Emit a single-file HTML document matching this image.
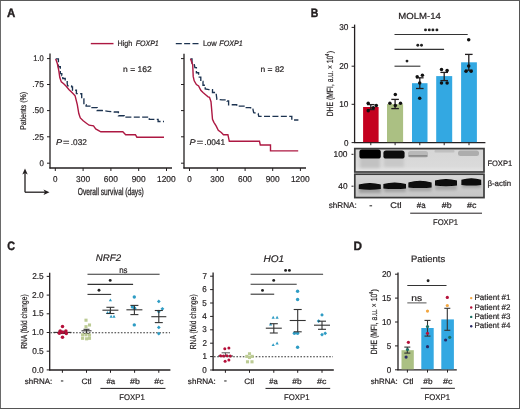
<!DOCTYPE html>
<html><head><meta charset="utf-8"><style>
html,body{margin:0;padding:0;background:#fff;}
body{width:520px;height:409px;overflow:hidden;}
#w{will-change:transform;width:520px;height:409px;}
svg{display:block;font-family:"Liberation Sans",sans-serif;text-rendering:geometricPrecision;}
</style></head><body><div id="w">
<svg width="520" height="409" viewBox="0 0 520 409">
<rect x="0" y="0" width="520" height="409" fill="#fff"/>
<text x="6.91" y="16.5" font-size="12.2" textLength="8.3" lengthAdjust="spacingAndGlyphs" fill="#231f20" stroke="#231f20" stroke-width="0.4" style="font-weight:bold;" >A</text>
<line x1="90.8" y1="43.6" x2="113.5" y2="43.6" stroke="#ad1842" stroke-width="1.4" />
<text x="117.51" y="46.4" font-size="7.9" textLength="14.75" lengthAdjust="spacingAndGlyphs" fill="#231f20" stroke="#231f20" stroke-width="0.2" style="" >High</text>
<text x="135.69" y="46.4" font-size="7.9" textLength="23.1" lengthAdjust="spacingAndGlyphs" fill="#231f20" stroke="#231f20" stroke-width="0.2" style="font-style:italic;" >FOXP1</text>
<line x1="175.8" y1="43.6" x2="198.5" y2="43.6" stroke="#1c3350" stroke-width="1.4" stroke-dasharray="6,2.35"/>
<text x="202.88" y="46.4" font-size="7.9" textLength="13.8" lengthAdjust="spacingAndGlyphs" fill="#231f20" stroke="#231f20" stroke-width="0.2" style="" >Low</text>
<text x="219.28" y="46.4" font-size="7.9" textLength="23.52" lengthAdjust="spacingAndGlyphs" fill="#231f20" stroke="#231f20" stroke-width="0.2" style="font-style:italic;" >FOXP1</text>
<line x1="50" y1="53.5" x2="50" y2="168.5" stroke="#231f20" stroke-width="1.3" />
<line x1="49.45" y1="168" x2="172" y2="168" stroke="#231f20" stroke-width="1.3" />
<line x1="47" y1="58.6" x2="50" y2="58.6" stroke="#231f20" stroke-width="1" />
<line x1="47" y1="84.5" x2="50" y2="84.5" stroke="#231f20" stroke-width="1" />
<line x1="47" y1="110.6" x2="50" y2="110.6" stroke="#231f20" stroke-width="1" />
<line x1="47" y1="136.8" x2="50" y2="136.8" stroke="#231f20" stroke-width="1" />
<line x1="47" y1="163.2" x2="50" y2="163.2" stroke="#231f20" stroke-width="1" />
<line x1="55.3" y1="168" x2="55.3" y2="171" stroke="#231f20" stroke-width="1" />
<line x1="83.1" y1="168" x2="83.1" y2="171" stroke="#231f20" stroke-width="1" />
<line x1="110.9" y1="168" x2="110.9" y2="171" stroke="#231f20" stroke-width="1" />
<line x1="138.7" y1="168" x2="138.7" y2="171" stroke="#231f20" stroke-width="1" />
<line x1="166.5" y1="168" x2="166.5" y2="171" stroke="#231f20" stroke-width="1" />
<text x="53.05" y="182.4" font-size="8.5" textLength="4.49" lengthAdjust="spacingAndGlyphs" fill="#231f20" stroke="#231f20" stroke-width="0.2" style="" >0</text>
<text x="76.12" y="182.4" font-size="8.5" textLength="13.97" lengthAdjust="spacingAndGlyphs" fill="#231f20" stroke="#231f20" stroke-width="0.2" style="" >300</text>
<text x="103.87" y="182.4" font-size="8.5" textLength="13.97" lengthAdjust="spacingAndGlyphs" fill="#231f20" stroke="#231f20" stroke-width="0.2" style="" >600</text>
<text x="131.68" y="182.4" font-size="8.5" textLength="13.97" lengthAdjust="spacingAndGlyphs" fill="#231f20" stroke="#231f20" stroke-width="0.2" style="" >900</text>
<text x="157" y="182.4" font-size="8.5" textLength="18.7" lengthAdjust="spacingAndGlyphs" fill="#231f20" stroke="#231f20" stroke-width="0.2" style="" >1200</text>
<line x1="184" y1="53.7" x2="184" y2="168.5" stroke="#231f20" stroke-width="1.3" />
<line x1="183.45" y1="168" x2="306" y2="168" stroke="#231f20" stroke-width="1.3" />
<line x1="181" y1="58.6" x2="184" y2="58.6" stroke="#231f20" stroke-width="1" />
<line x1="181" y1="84.5" x2="184" y2="84.5" stroke="#231f20" stroke-width="1" />
<line x1="181" y1="110.6" x2="184" y2="110.6" stroke="#231f20" stroke-width="1" />
<line x1="181" y1="136.8" x2="184" y2="136.8" stroke="#231f20" stroke-width="1" />
<line x1="181" y1="163.2" x2="184" y2="163.2" stroke="#231f20" stroke-width="1" />
<line x1="189.5" y1="168" x2="189.5" y2="171" stroke="#231f20" stroke-width="1" />
<line x1="217.3" y1="168" x2="217.3" y2="171" stroke="#231f20" stroke-width="1" />
<line x1="245.1" y1="168" x2="245.1" y2="171" stroke="#231f20" stroke-width="1" />
<line x1="272.7" y1="168" x2="272.7" y2="171" stroke="#231f20" stroke-width="1" />
<line x1="300.4" y1="168" x2="300.4" y2="171" stroke="#231f20" stroke-width="1" />
<text x="187.25" y="182.4" font-size="8.5" textLength="4.49" lengthAdjust="spacingAndGlyphs" fill="#231f20" stroke="#231f20" stroke-width="0.2" style="" >0</text>
<text x="210.32" y="182.4" font-size="8.5" textLength="13.97" lengthAdjust="spacingAndGlyphs" fill="#231f20" stroke="#231f20" stroke-width="0.2" style="" >300</text>
<text x="238.07" y="182.4" font-size="8.5" textLength="13.97" lengthAdjust="spacingAndGlyphs" fill="#231f20" stroke="#231f20" stroke-width="0.2" style="" >600</text>
<text x="265.68" y="182.4" font-size="8.5" textLength="13.97" lengthAdjust="spacingAndGlyphs" fill="#231f20" stroke="#231f20" stroke-width="0.2" style="" >900</text>
<text x="290.9" y="182.4" font-size="8.5" textLength="18.7" lengthAdjust="spacingAndGlyphs" fill="#231f20" stroke="#231f20" stroke-width="0.2" style="" >1200</text>
<text x="33.23" y="61" font-size="8.3" textLength="10.56" lengthAdjust="spacingAndGlyphs" fill="#231f20" stroke="#231f20" stroke-width="0.2" style="" >1.0</text>
<text x="32.25" y="87.2" font-size="8.3" textLength="11.58" lengthAdjust="spacingAndGlyphs" fill="#231f20" stroke="#231f20" stroke-width="0.2" style="" >.75</text>
<text x="32.25" y="113.3" font-size="8.3" textLength="11.56" lengthAdjust="spacingAndGlyphs" fill="#231f20" stroke="#231f20" stroke-width="0.2" style="" >.50</text>
<text x="32.25" y="139.5" font-size="8.3" textLength="11.58" lengthAdjust="spacingAndGlyphs" fill="#231f20" stroke="#231f20" stroke-width="0.2" style="" >.25</text>
<text x="39.42" y="165.8" font-size="8.3" textLength="4.38" lengthAdjust="spacingAndGlyphs" fill="#231f20" stroke="#231f20" stroke-width="0.2" style="" >0</text>
<g transform="translate(25.9,129.4) rotate(-90)">
<text x="-0.47" y="0" font-size="8.4" textLength="37.9" lengthAdjust="spacingAndGlyphs" fill="#231f20" stroke="#231f20" stroke-width="0.2" style="" >Patients (%)</text>
</g>
<line x1="25" y1="192.2" x2="25" y2="172" stroke="#231f20" stroke-width="1.3" />
<path d="M25,168.5 L22.3,174.5 L25,173 L27.7,174.5 Z" fill="#231f20"/>
<line x1="25" y1="192.2" x2="46" y2="192.2" stroke="#231f20" stroke-width="1.3" />
<path d="M49.5,192.2 L43.5,189.5 L45,192.2 L43.5,194.9 Z" fill="#231f20"/>
<text x="77.83" y="194.9" font-size="10" textLength="65.93" lengthAdjust="spacingAndGlyphs" fill="#231f20" stroke="#231f20" stroke-width="0.3" style="" >Overall survival (days)</text>
<text x="123.13" y="72" font-size="8.2" textLength="28.51" lengthAdjust="spacingAndGlyphs" fill="#231f20" stroke="#231f20" stroke-width="0.2" style="" >n = 162</text>
<text x="260.53" y="72" font-size="8.2" textLength="23.8" lengthAdjust="spacingAndGlyphs" fill="#231f20" stroke="#231f20" stroke-width="0.2" style="" >n = 82</text>
<text x="56.02" y="144.8" font-size="8.3" textLength="6.14" lengthAdjust="spacingAndGlyphs" fill="#231f20" stroke="#231f20" stroke-width="0.2" style="font-style:italic;" >P</text>
<text x="63.07" y="144.8" font-size="8.3" textLength="6.47" lengthAdjust="spacingAndGlyphs" fill="#231f20" stroke="#231f20" stroke-width="0.2" style="" >=</text>
<text x="70.76" y="144.8" font-size="8.3" textLength="16.07" lengthAdjust="spacingAndGlyphs" fill="#231f20" stroke="#231f20" stroke-width="0.2" style="" >.032</text>
<text x="189.62" y="144.8" font-size="8.3" textLength="6.14" lengthAdjust="spacingAndGlyphs" fill="#231f20" stroke="#231f20" stroke-width="0.2" style="font-style:italic;" >P</text>
<text x="196.67" y="144.8" font-size="8.3" textLength="6.47" lengthAdjust="spacingAndGlyphs" fill="#231f20" stroke="#231f20" stroke-width="0.2" style="" >=</text>
<text x="204.35" y="144.8" font-size="8.3" textLength="20.74" lengthAdjust="spacingAndGlyphs" fill="#231f20" stroke="#231f20" stroke-width="0.2" style="" >.0041</text>
<polyline points="55.7,58.9 58.4,58.9 58.4,66.7 60.3,66.7 60.3,73.6 61.8,73.6 61.8,75.5 62.8,75.5 62.8,78.5 65.2,78.5 65.2,80.9 67.2,80.9 67.2,83.3 67.6,85.8 71.6,85.8 71.6,86.8 72.5,86.8 72.5,90.2 76.4,90.2 76.4,93.6 78.8,93.7 81.7,93.7 81.7,98.8 83.9,98.8 83.9,104.7 86.1,104.7 86.1,106.1 92,106.1 92,107.6 97.1,107.6 97.1,110.5 102.3,110.5 108.1,111.3 114,112 118.4,112 118.4,115.7 124.3,115.7 124.3,117.1 147.1,117.1 149.3,117.1 149.3,119.3 156.7,119.3 158.1,119.3 158.1,121.5 164,121.5" fill="none" stroke="#1c3350" stroke-width="1.35" stroke-linejoin="miter" stroke-dasharray="6,2.4"/>
<polyline points="55.7,58.9 57.4,63.8 58.8,70.6 59.8,77.5 61.3,81.9 63.7,83.8 66.2,86.3 69.1,89.7 73,93.6 75.1,95.9 77.3,104.7 78.8,113.5 80.3,117.9 83.2,120.8 86.1,123 89.1,125.2 93.5,125.9 95.7,128.9 100.8,131.8 122.8,131.8 125.7,134.7 135.4,134.7 136.9,137.2 164,137.2" fill="none" stroke="#ad1842" stroke-width="1.4" stroke-linejoin="miter" />
<polyline points="190.5,58.8 192,58.8 192,63.2 194.2,63.9 194.9,67.6 196.4,67.6 196.4,72.7 198.6,72.7 198.6,77.1 200.8,77.1 200.8,81.5 203,81.5 203,85.2 205.2,85.2 205.2,88.9 208.9,89.6 212.5,89.6 212.5,92.5 216.2,92.5 216.2,94 216.9,99.3 222.1,99.9 227.1,99.9 227.1,101 228.6,101 228.6,104.7 236.7,104.7 236.7,106.1 241.8,106.1 244,106.1 244,107.6 250.6,107.6 250.6,109.1 252.9,109.1 253.7,112.7 258.1,113.5 258.8,116.4 291,116.4 291.8,116.4 291.8,120 298.4,120" fill="none" stroke="#1c3350" stroke-width="1.35" stroke-linejoin="miter" stroke-dasharray="6,2.4"/>
<polyline points="190.5,58.8 192.7,64.7 193.2,76.4 194.2,80.8 196.4,84.5 198.6,85.9 200.8,90.3 203,92.5 205.9,95 208.1,96.9 209.5,97.3 211,101.7 212.5,119.3 213.9,122.3 216.1,125.9 218.3,130.3 221.3,132.5 223.5,134.7 227.9,134.7 229.3,141.3 259.5,141.3 260.3,145 270.5,145 270.5,150.9 298.2,150.9" fill="none" stroke="#ad1842" stroke-width="1.4" stroke-linejoin="miter" />
<text x="310.69" y="16.6" font-size="12.2" textLength="7.58" lengthAdjust="spacingAndGlyphs" fill="#231f20" stroke="#231f20" stroke-width="0.4" style="font-weight:bold;" >B</text>
<text x="398.31" y="19.1" font-size="8.8" textLength="42.56" lengthAdjust="spacingAndGlyphs" fill="#231f20" stroke="#231f20" stroke-width="0.2" style="" >MOLM-14</text>
<line x1="354.6" y1="24.6" x2="354.6" y2="142.9" stroke="#231f20" stroke-width="1.3" />
<line x1="354.05" y1="142.6" x2="485.4" y2="142.6" stroke="#231f20" stroke-width="1.3" />
<line x1="351.6" y1="27.4" x2="354.6" y2="27.4" stroke="#231f20" stroke-width="1" />
<text x="339.19" y="30.35" font-size="8.5" textLength="9.24" lengthAdjust="spacingAndGlyphs" fill="#231f20" stroke="#231f20" stroke-width="0.2" style="" >30</text>
<line x1="351.6" y1="66.2" x2="354.6" y2="66.2" stroke="#231f20" stroke-width="1" />
<text x="339.19" y="69.15" font-size="8.5" textLength="9.24" lengthAdjust="spacingAndGlyphs" fill="#231f20" stroke="#231f20" stroke-width="0.2" style="" >20</text>
<line x1="351.6" y1="104.3" x2="354.6" y2="104.3" stroke="#231f20" stroke-width="1" />
<text x="339.2" y="107.25" font-size="8.5" textLength="9.23" lengthAdjust="spacingAndGlyphs" fill="#231f20" stroke="#231f20" stroke-width="0.2" style="" >10</text>
<line x1="351.6" y1="142.6" x2="354.6" y2="142.6" stroke="#231f20" stroke-width="1" />
<text x="343.92" y="145.55" font-size="8.5" textLength="4.49" lengthAdjust="spacingAndGlyphs" fill="#231f20" stroke="#231f20" stroke-width="0.2" style="" >0</text>
<g transform="translate(333.1,115.9) rotate(-90)">
<text x="-0.46" y="0" font-size="9" textLength="60.73" lengthAdjust="spacingAndGlyphs" fill="#231f20" stroke="#231f20" stroke-width="0.2" style="" >DHE (MFI, a.u. × 10</text>
</g>
<g transform="translate(329.1,55.9) rotate(-90)">
<text x="-0.01" y="0" font-size="5.8" textLength="2.15" lengthAdjust="spacingAndGlyphs" fill="#231f20" stroke="#231f20" stroke-width="0.15" style="" >4</text>
</g>
<g transform="translate(333.1,53.2) rotate(-90)">
<text x="0.05" y="0" font-size="8.4" textLength="2.39" lengthAdjust="spacingAndGlyphs" fill="#231f20" stroke="#231f20" stroke-width="0.2" style="" >)</text>
</g>
<rect x="363.1" y="107" width="15.5" height="35.1" fill="#c4011f" />
<rect x="387" y="104.1" width="16.1" height="38" fill="#abc083" />
<rect x="412" y="83.2" width="15.5" height="58.9" fill="#33a8e2" />
<rect x="436.2" y="76.1" width="16" height="66" fill="#33a8e2" />
<rect x="461.1" y="62.3" width="15.8" height="79.8" fill="#33a8e2" />
<line x1="370.8" y1="142.6" x2="370.8" y2="145.2" stroke="#231f20" stroke-width="1" />
<line x1="395.1" y1="142.6" x2="395.1" y2="145.2" stroke="#231f20" stroke-width="1" />
<line x1="419.8" y1="142.6" x2="419.8" y2="145.2" stroke="#231f20" stroke-width="1" />
<line x1="444.2" y1="142.6" x2="444.2" y2="145.2" stroke="#231f20" stroke-width="1" />
<line x1="469" y1="142.6" x2="469" y2="145.2" stroke="#231f20" stroke-width="1" />
<line x1="370.8" y1="104.6" x2="370.8" y2="109.6" stroke="#231f20" stroke-width="1.3" />
<line x1="367" y1="104.6" x2="374.6" y2="104.6" stroke="#231f20" stroke-width="1.3" />
<line x1="367" y1="109.6" x2="374.6" y2="109.6" stroke="#231f20" stroke-width="1.3" />
<line x1="395.1" y1="99.4" x2="395.1" y2="108.6" stroke="#231f20" stroke-width="1.3" />
<line x1="391.3" y1="99.4" x2="398.9" y2="99.4" stroke="#231f20" stroke-width="1.3" />
<line x1="391.3" y1="108.6" x2="398.9" y2="108.6" stroke="#231f20" stroke-width="1.3" />
<line x1="419.8" y1="77.8" x2="419.8" y2="88.5" stroke="#231f20" stroke-width="1.3" />
<line x1="416" y1="77.8" x2="423.6" y2="77.8" stroke="#231f20" stroke-width="1.3" />
<line x1="416" y1="88.5" x2="423.6" y2="88.5" stroke="#231f20" stroke-width="1.3" />
<line x1="444.2" y1="72.4" x2="444.2" y2="80.6" stroke="#231f20" stroke-width="1.3" />
<line x1="440.4" y1="72.4" x2="448" y2="72.4" stroke="#231f20" stroke-width="1.3" />
<line x1="440.4" y1="80.6" x2="448" y2="80.6" stroke="#231f20" stroke-width="1.3" />
<line x1="468.8" y1="54.4" x2="468.8" y2="70.2" stroke="#231f20" stroke-width="1.3" />
<line x1="465" y1="54.4" x2="472.6" y2="54.4" stroke="#231f20" stroke-width="1.3" />
<line x1="465" y1="70.2" x2="472.6" y2="70.2" stroke="#231f20" stroke-width="1.3" />
<circle cx="368.2" cy="103.3" r="1.75" fill="#111"/>
<circle cx="368.2" cy="110.7" r="1.75" fill="#111"/>
<circle cx="373.3" cy="107.7" r="1.75" fill="#111"/>
<circle cx="376.3" cy="105.5" r="1.75" fill="#111"/>
<circle cx="395.3" cy="94.5" r="1.75" fill="#111"/>
<circle cx="389.9" cy="103.3" r="1.75" fill="#111"/>
<circle cx="395.3" cy="105.5" r="1.75" fill="#111"/>
<circle cx="400.5" cy="103.3" r="1.75" fill="#111"/>
<circle cx="417.2" cy="76.7" r="1.75" fill="#111"/>
<circle cx="422.4" cy="75.3" r="1.75" fill="#111"/>
<circle cx="419.7" cy="83.1" r="1.75" fill="#111"/>
<circle cx="419.7" cy="98.2" r="1.75" fill="#111"/>
<circle cx="441.5" cy="69.5" r="1.75" fill="#111"/>
<circle cx="447.1" cy="70.4" r="1.75" fill="#111"/>
<circle cx="441.5" cy="82.9" r="1.75" fill="#111"/>
<circle cx="447.1" cy="82.9" r="1.75" fill="#111"/>
<circle cx="468.7" cy="39.8" r="1.75" fill="#111"/>
<circle cx="468.7" cy="66.1" r="1.75" fill="#111"/>
<circle cx="466" cy="71.3" r="1.75" fill="#111"/>
<circle cx="471.1" cy="71.3" r="1.75" fill="#111"/>
<line x1="394.5" y1="34.5" x2="467.7" y2="34.5" stroke="#333" stroke-width="1.1" />
<line x1="394.5" y1="49.4" x2="444.1" y2="49.4" stroke="#333" stroke-width="1.1" />
<line x1="394.5" y1="66.2" x2="420.4" y2="66.2" stroke="#333" stroke-width="1.1" />
<circle cx="425.5" cy="29.9" r="1.45" fill="#222"/>
<circle cx="429.3" cy="29.9" r="1.45" fill="#222"/>
<circle cx="432.9" cy="29.9" r="1.45" fill="#222"/>
<circle cx="436.9" cy="29.9" r="1.45" fill="#222"/>
<circle cx="417.8" cy="45.2" r="1.45" fill="#222"/>
<circle cx="421.5" cy="45.2" r="1.45" fill="#222"/>
<circle cx="407" cy="61.1" r="1.45" fill="#222"/>
<defs><filter id="bl" x="-30%" y="-80%" width="160%" height="260%"><feGaussianBlur stdDeviation="0.65"/></filter><filter id="bl2" x="-30%" y="-80%" width="160%" height="260%"><feGaussianBlur stdDeviation="1.6"/></filter><linearGradient id="g1" x1="0" y1="0" x2="0" y2="1"><stop offset="0" stop-color="#d6d6d6"/><stop offset="0.75" stop-color="#dadada"/><stop offset="1" stop-color="#e6e6e6"/></linearGradient><linearGradient id="g2" x1="0" y1="0" x2="0" y2="1"><stop offset="0" stop-color="#d6d6d6"/><stop offset="1" stop-color="#c6c6c6"/></linearGradient></defs>
<rect x="354.8" y="148.6" width="129.2" height="23.4" fill="url(#g1)"  stroke="#3c3c3c" stroke-width="1.7"/>
<rect x="354.8" y="174.2" width="129.2" height="23.4" fill="url(#g2)"  stroke="#3c3c3c" stroke-width="1.7"/>
<g filter="url(#bl2)">
<rect x="360" y="157" width="20" height="11" fill="#c2c2c2" />
<rect x="384" y="157" width="20" height="10" fill="#c8c8c8" />
<rect x="359" y="187" width="22" height="6" fill="#9c9c9c" />
<rect x="384" y="186" width="22" height="6" fill="#a0a0a0" />
<rect x="408.6" y="185" width="23" height="6" fill="#a0a0a0" />
<rect x="435.2" y="184" width="21.6" height="6" fill="#a6a6a6" />
<rect x="461.6" y="183" width="19.6" height="5" fill="#a6a6a6" />
</g>
<g filter="url(#bl)">
<rect x="359.4" y="149.4" width="21.4" height="9.2" fill="#060606"  rx="2.6"/>
<rect x="383.4" y="150.6" width="21.2" height="8" fill="#0c0c0c"  rx="2.6"/>
<rect x="408" y="151" width="20" height="6.6" fill="#b9b9b9"  rx="2.5"/>
<rect x="408.5" y="155" width="19" height="1.8" fill="#8c8c8c"  rx="0.9"/>
<rect x="434.5" y="150" width="20" height="2.5" fill="#c0c0c0"  rx="1"/>
<rect x="458" y="150.5" width="21" height="5.6" fill="#adadad"  rx="2.5"/>
<path d="M358.8,184.5 Q369.8,181.3 380.8,184.5 L380.8,189 Q369.8,190.4 358.8,189 Z" fill="#070707"/>
<path d="M383.4,183.9 Q394.7,180.9 406,183.9 L406,188.4 Q394.7,189.7 383.4,188.4 Z" fill="#070707"/>
<path d="M408.4,182.4 Q420,179 431.6,182.4 L431.6,187.4 Q420,188.8 408.4,187.4 Z" fill="#070707"/>
<path d="M435,180.6 Q446,177.4 457,180.6 L457,185.6 Q446,186.8 435,185.6 Z" fill="#070707"/>
<path d="M461.4,179.8 Q471.3,176.6 481.2,179.8 L481.2,185 Q471.3,186.2 461.4,185 Z" fill="#070707"/>
</g>
<line x1="351.5" y1="154.3" x2="353.5" y2="154.3" stroke="#231f20" stroke-width="1" />
<line x1="351.5" y1="186.2" x2="353.5" y2="186.2" stroke="#231f20" stroke-width="1" />
<text x="333.55" y="157" font-size="8.5" textLength="13.97" lengthAdjust="spacingAndGlyphs" fill="#231f20" stroke="#231f20" stroke-width="0.2" style="" >100</text>
<text x="338.29" y="188.8" font-size="8.5" textLength="9.24" lengthAdjust="spacingAndGlyphs" fill="#231f20" stroke="#231f20" stroke-width="0.2" style="" >40</text>
<text x="487.38" y="165.9" font-size="7.9" textLength="24.79" lengthAdjust="spacingAndGlyphs" fill="#231f20" stroke="#231f20" stroke-width="0.2" style="" >FOXP1</text>
<text x="487.45" y="186.4" font-size="7.9" textLength="23.75" lengthAdjust="spacingAndGlyphs" fill="#231f20" stroke="#231f20" stroke-width="0.2" style="" >β-actin</text>
<text x="328.68" y="208.1" font-size="8.2" textLength="28.06" lengthAdjust="spacingAndGlyphs" fill="#231f20" stroke="#231f20" stroke-width="0.2" style="" >shRNA:</text>
<rect x="369.5" y="205.1" width="2.6" height="1.3" fill="#555" />
<text x="390.34" y="208" font-size="8.2" textLength="11.28" lengthAdjust="spacingAndGlyphs" fill="#231f20" stroke="#231f20" stroke-width="0.2" style="" >Ctl</text>
<text x="416.86" y="208" font-size="8.2" textLength="8.84" lengthAdjust="spacingAndGlyphs" fill="#231f20" stroke="#231f20" stroke-width="0.2" style="" >#a</text>
<text x="441.76" y="208" font-size="8.2" textLength="9.92" lengthAdjust="spacingAndGlyphs" fill="#231f20" stroke="#231f20" stroke-width="0.2" style="" >#b</text>
<text x="467.06" y="208" font-size="8.2" textLength="9.4" lengthAdjust="spacingAndGlyphs" fill="#231f20" stroke="#231f20" stroke-width="0.2" style="" >#c</text>
<line x1="410.2" y1="213.2" x2="482" y2="213.2" stroke="#231f20" stroke-width="1" />
<text x="432.97" y="224.9" font-size="8.4" textLength="25.11" lengthAdjust="spacingAndGlyphs" fill="#231f20" stroke="#231f20" stroke-width="0.2" style="" >FOXP1</text>
<text x="7.17" y="249.8" font-size="12.2" textLength="7.83" lengthAdjust="spacingAndGlyphs" fill="#231f20" stroke="#231f20" stroke-width="0.4" style="font-weight:bold;" >C</text>
<text x="95.81" y="261.3" font-size="9.6" textLength="25.22" lengthAdjust="spacingAndGlyphs" fill="#231f20" stroke="#231f20" stroke-width="0.2" style="font-style:italic;" >NRF2</text>
<text x="263.5" y="261.5" font-size="9.6" textLength="20.64" lengthAdjust="spacingAndGlyphs" fill="#231f20" stroke="#231f20" stroke-width="0.2" style="font-style:italic;" >HO1</text>
<line x1="49.7" y1="272.7" x2="49.7" y2="370.5" stroke="#231f20" stroke-width="1.3" />
<line x1="49.15" y1="370" x2="170.4" y2="370" stroke="#231f20" stroke-width="1.3" />
<line x1="46.7" y1="369.9" x2="49.7" y2="369.9" stroke="#231f20" stroke-width="1" />
<text x="32.11" y="372.5" font-size="8.5" textLength="11.6" lengthAdjust="spacingAndGlyphs" fill="#231f20" stroke="#231f20" stroke-width="0.2" style="" >0.0</text>
<line x1="46.7" y1="351.2" x2="49.7" y2="351.2" stroke="#231f20" stroke-width="1" />
<text x="32.13" y="353.8" font-size="8.5" textLength="11.6" lengthAdjust="spacingAndGlyphs" fill="#231f20" stroke="#231f20" stroke-width="0.2" style="" >0.5</text>
<line x1="46.7" y1="332.5" x2="49.7" y2="332.5" stroke="#231f20" stroke-width="1" />
<text x="32.12" y="335.1" font-size="8.5" textLength="11.6" lengthAdjust="spacingAndGlyphs" fill="#231f20" stroke="#231f20" stroke-width="0.2" style="" >1.0</text>
<line x1="46.7" y1="313.8" x2="49.7" y2="313.8" stroke="#231f20" stroke-width="1" />
<text x="32.14" y="316.4" font-size="8.5" textLength="11.6" lengthAdjust="spacingAndGlyphs" fill="#231f20" stroke="#231f20" stroke-width="0.2" style="" >1.5</text>
<line x1="46.7" y1="295.1" x2="49.7" y2="295.1" stroke="#231f20" stroke-width="1" />
<text x="32.11" y="297.7" font-size="8.5" textLength="11.6" lengthAdjust="spacingAndGlyphs" fill="#231f20" stroke="#231f20" stroke-width="0.2" style="" >2.0</text>
<line x1="46.7" y1="276.4" x2="49.7" y2="276.4" stroke="#231f20" stroke-width="1" />
<text x="32.13" y="279" font-size="8.5" textLength="11.6" lengthAdjust="spacingAndGlyphs" fill="#231f20" stroke="#231f20" stroke-width="0.2" style="" >2.5</text>
<line x1="62.4" y1="370" x2="62.4" y2="372.8" stroke="#231f20" stroke-width="1" />
<line x1="86.5" y1="370" x2="86.5" y2="372.8" stroke="#231f20" stroke-width="1" />
<line x1="110.5" y1="370" x2="110.5" y2="372.8" stroke="#231f20" stroke-width="1" />
<line x1="134.6" y1="370" x2="134.6" y2="372.8" stroke="#231f20" stroke-width="1" />
<line x1="158.8" y1="370" x2="158.8" y2="372.8" stroke="#231f20" stroke-width="1" />
<g transform="translate(26.9,348.3) rotate(-90)">
<text x="-0.45" y="0" font-size="8.7" textLength="54.36" lengthAdjust="spacingAndGlyphs" fill="#231f20" stroke="#231f20" stroke-width="0.2" style="" >RNA (fold change)</text>
</g>
<line x1="213.1" y1="272.4" x2="213.1" y2="370.5" stroke="#231f20" stroke-width="1.3" />
<line x1="212.55" y1="370" x2="333.8" y2="370" stroke="#231f20" stroke-width="1.3" />
<line x1="210.1" y1="370" x2="213.1" y2="370" stroke="#231f20" stroke-width="1" />
<text x="202.32" y="372.6" font-size="8.5" textLength="4.49" lengthAdjust="spacingAndGlyphs" fill="#231f20" stroke="#231f20" stroke-width="0.2" style="" >0</text>
<line x1="210.1" y1="356.6" x2="213.1" y2="356.6" stroke="#231f20" stroke-width="1" />
<text x="202.42" y="359.2" font-size="8.5" textLength="4.47" lengthAdjust="spacingAndGlyphs" fill="#231f20" stroke="#231f20" stroke-width="0.2" style="" >1</text>
<line x1="210.1" y1="343.2" x2="213.1" y2="343.2" stroke="#231f20" stroke-width="1" />
<text x="202.43" y="345.8" font-size="8.5" textLength="4.48" lengthAdjust="spacingAndGlyphs" fill="#231f20" stroke="#231f20" stroke-width="0.2" style="" >2</text>
<line x1="210.1" y1="329.8" x2="213.1" y2="329.8" stroke="#231f20" stroke-width="1" />
<text x="202.36" y="332.4" font-size="8.5" textLength="4.49" lengthAdjust="spacingAndGlyphs" fill="#231f20" stroke="#231f20" stroke-width="0.2" style="" >3</text>
<line x1="210.1" y1="316.4" x2="213.1" y2="316.4" stroke="#231f20" stroke-width="1" />
<text x="202.23" y="319" font-size="8.5" textLength="4.51" lengthAdjust="spacingAndGlyphs" fill="#231f20" stroke="#231f20" stroke-width="0.2" style="" >4</text>
<line x1="210.1" y1="303" x2="213.1" y2="303" stroke="#231f20" stroke-width="1" />
<text x="202.34" y="305.6" font-size="8.5" textLength="4.49" lengthAdjust="spacingAndGlyphs" fill="#231f20" stroke="#231f20" stroke-width="0.2" style="" >5</text>
<line x1="210.1" y1="289.6" x2="213.1" y2="289.6" stroke="#231f20" stroke-width="1" />
<text x="202.37" y="292.2" font-size="8.5" textLength="4.49" lengthAdjust="spacingAndGlyphs" fill="#231f20" stroke="#231f20" stroke-width="0.2" style="" >6</text>
<line x1="210.1" y1="276.2" x2="213.1" y2="276.2" stroke="#231f20" stroke-width="1" />
<text x="202.43" y="278.8" font-size="8.5" textLength="4.48" lengthAdjust="spacingAndGlyphs" fill="#231f20" stroke="#231f20" stroke-width="0.2" style="" >7</text>
<line x1="225.4" y1="370" x2="225.4" y2="372.8" stroke="#231f20" stroke-width="1" />
<line x1="249.5" y1="370" x2="249.5" y2="372.8" stroke="#231f20" stroke-width="1" />
<line x1="273.8" y1="370" x2="273.8" y2="372.8" stroke="#231f20" stroke-width="1" />
<line x1="297.7" y1="370" x2="297.7" y2="372.8" stroke="#231f20" stroke-width="1" />
<line x1="322" y1="370" x2="322" y2="372.8" stroke="#231f20" stroke-width="1" />
<g transform="translate(196.3,348.8) rotate(-90)">
<text x="-0.45" y="0" font-size="8.7" textLength="54.86" lengthAdjust="spacingAndGlyphs" fill="#231f20" stroke="#231f20" stroke-width="0.2" style="" >RNA (fold change)</text>
</g>
<line x1="50.5" y1="332.7" x2="170" y2="332.7" stroke="#333" stroke-width="1.1" stroke-dasharray="1.6,1.6"/>
<line x1="214" y1="356.8" x2="333" y2="356.8" stroke="#333" stroke-width="1.1" stroke-dasharray="1.6,1.6"/>
<line x1="87.5" y1="274.2" x2="159.6" y2="274.2" stroke="#333" stroke-width="1.1" />
<line x1="87.5" y1="284.4" x2="133.1" y2="284.4" stroke="#333" stroke-width="1.1" />
<line x1="87.5" y1="294.4" x2="111.2" y2="294.4" stroke="#333" stroke-width="1.1" />
<text x="119.17" y="272.5" font-size="8.6" textLength="8.32" lengthAdjust="spacingAndGlyphs" fill="#231f20" stroke="#231f20" stroke-width="0.2" style="" >ns</text>
<circle cx="110.2" cy="280.4" r="1.45" fill="#222"/>
<circle cx="99" cy="290.2" r="1.45" fill="#222"/>
<line x1="250.6" y1="274.2" x2="323.1" y2="274.2" stroke="#333" stroke-width="1.1" />
<line x1="250.6" y1="284.2" x2="296.7" y2="284.2" stroke="#333" stroke-width="1.1" />
<line x1="250.6" y1="294.2" x2="274.2" y2="294.2" stroke="#333" stroke-width="1.1" />
<circle cx="285.6" cy="270.4" r="1.45" fill="#222"/>
<circle cx="289.4" cy="270.4" r="1.45" fill="#222"/>
<circle cx="273.7" cy="280.4" r="1.45" fill="#222"/>
<circle cx="262.5" cy="290.4" r="1.45" fill="#222"/>
<line x1="53.4" y1="332.4" x2="71.4" y2="332.4" stroke="#333" stroke-width="1.1" />
<line x1="62.4" y1="331.3" x2="62.4" y2="333.5" stroke="#333" stroke-width="1.1" />
<line x1="58.4" y1="331.3" x2="66.4" y2="331.3" stroke="#333" stroke-width="1.1" />
<line x1="58.4" y1="333.5" x2="66.4" y2="333.5" stroke="#333" stroke-width="1.1" />
<circle cx="62.5" cy="326.4" r="1.75" fill="#b5103a"/>
<circle cx="60.2" cy="330.9" r="1.75" fill="#b5103a"/>
<circle cx="65.9" cy="330.9" r="1.75" fill="#b5103a"/>
<circle cx="59.3" cy="333.2" r="1.75" fill="#b5103a"/>
<circle cx="66.3" cy="333.4" r="1.75" fill="#b5103a"/>
<circle cx="62.6" cy="332.2" r="1.75" fill="#b5103a"/>
<circle cx="62.5" cy="337.2" r="1.75" fill="#b5103a"/>
<line x1="81.5" y1="330.8" x2="91.5" y2="330.8" stroke="#333" stroke-width="1.1" />
<line x1="86.5" y1="329.3" x2="86.5" y2="333.5" stroke="#333" stroke-width="1.1" />
<line x1="83.5" y1="329.3" x2="89.5" y2="329.3" stroke="#333" stroke-width="1.1" />
<line x1="83.5" y1="333.5" x2="89.5" y2="333.5" stroke="#333" stroke-width="1.1" />
<rect x="84.45" y="318.65" width="3.1" height="3.1" fill="#bccb94" />
<rect x="87.95" y="323.45" width="3.1" height="3.1" fill="#bccb94" />
<rect x="84.45" y="325.15" width="3.1" height="3.1" fill="#bccb94" />
<rect x="81.05" y="333.25" width="3.1" height="3.1" fill="#bccb94" />
<rect x="84.45" y="333.25" width="3.1" height="3.1" fill="#bccb94" />
<rect x="87.95" y="333.55" width="3.1" height="3.1" fill="#bccb94" />
<rect x="81.05" y="336.75" width="3.1" height="3.1" fill="#bccb94" />
<rect x="85.05" y="337.25" width="3.1" height="3.1" fill="#bccb94" />
<rect x="87.95" y="336.75" width="3.1" height="3.1" fill="#bccb94" />
<path d="M110.4,298.4 L112,301.28 L108.8,301.28 Z" fill="#2e9cc4"/>
<path d="M107.5,311.1 L109.1,313.98 L105.9,313.98 Z" fill="#2e9cc4"/>
<path d="M109.7,311.1 L111.3,313.98 L108.1,313.98 Z" fill="#2e9cc4"/>
<path d="M111.1,314.8 L112.7,317.68 L109.5,317.68 Z" fill="#2e9cc4"/>
<path d="M114,314.8 L115.6,317.68 L112.4,317.68 Z" fill="#2e9cc4"/>
<line x1="102.4" y1="310.2" x2="118.4" y2="310.2" stroke="#333" stroke-width="1.1" />
<line x1="110.4" y1="307.3" x2="110.4" y2="313.5" stroke="#333" stroke-width="1.1" />
<line x1="106.4" y1="307.3" x2="114.4" y2="307.3" stroke="#333" stroke-width="1.1" />
<line x1="106.4" y1="313.5" x2="114.4" y2="313.5" stroke="#333" stroke-width="1.1" />
<circle cx="134.3" cy="297" r="1.7" fill="#2e9cc4"/>
<circle cx="132.4" cy="306.9" r="1.7" fill="#2e9cc4"/>
<circle cx="134.6" cy="308.3" r="1.7" fill="#2e9cc4"/>
<circle cx="134.3" cy="324.9" r="1.7" fill="#2e9cc4"/>
<line x1="126.4" y1="309.8" x2="142.4" y2="309.8" stroke="#333" stroke-width="1.1" />
<line x1="134.4" y1="305.4" x2="134.4" y2="314.6" stroke="#333" stroke-width="1.1" />
<line x1="130.4" y1="305.4" x2="138.4" y2="305.4" stroke="#333" stroke-width="1.1" />
<line x1="130.4" y1="314.6" x2="138.4" y2="314.6" stroke="#333" stroke-width="1.1" />
<path d="M158.8,299.5 L160.7,301.4 L158.8,303.3 L156.9,301.4 Z" fill="#2e9cc4"/>
<path d="M162.4,306.9 L164.3,308.8 L162.4,310.7 L160.5,308.8 Z" fill="#2e9cc4"/>
<path d="M158.8,309.8 L160.7,311.7 L158.8,313.6 L156.9,311.7 Z" fill="#2e9cc4"/>
<path d="M158.8,325.5 L160.7,327.4 L158.8,329.3 L156.9,327.4 Z" fill="#2e9cc4"/>
<path d="M158.8,331.8 L160.7,333.7 L158.8,335.6 L156.9,333.7 Z" fill="#2e9cc4"/>
<line x1="151.3" y1="316.7" x2="166.3" y2="316.7" stroke="#333" stroke-width="1.1" />
<line x1="158.8" y1="310.5" x2="158.8" y2="322.6" stroke="#333" stroke-width="1.1" />
<line x1="154.8" y1="310.5" x2="162.8" y2="310.5" stroke="#333" stroke-width="1.1" />
<line x1="154.8" y1="322.6" x2="162.8" y2="322.6" stroke="#333" stroke-width="1.1" />
<line x1="221.6" y1="352.8" x2="230" y2="352.8" stroke="#555" stroke-width="1" />
<line x1="225.4" y1="352.8" x2="225.4" y2="356" stroke="#555" stroke-width="1" />
<line x1="218" y1="356" x2="233" y2="356" stroke="#444" stroke-width="1.1" />
<circle cx="224.8" cy="348.8" r="1.5" fill="#b5103a"/>
<circle cx="228.9" cy="348.1" r="1.5" fill="#b5103a"/>
<circle cx="225.1" cy="361.2" r="1.5" fill="#b5103a"/>
<circle cx="228.9" cy="359.9" r="1.5" fill="#b5103a"/>
<circle cx="220.5" cy="355.8" r="1.5" fill="#b5103a"/>
<circle cx="223.5" cy="356" r="1.5" fill="#b5103a"/>
<circle cx="226.8" cy="355.8" r="1.5" fill="#b5103a"/>
<circle cx="230.2" cy="355.9" r="1.5" fill="#b5103a"/>
<rect x="247.95" y="352.25" width="3.1" height="3.1" fill="#bccb94" />
<rect x="245.25" y="354.85" width="3.1" height="3.1" fill="#bccb94" />
<rect x="250.65" y="354.85" width="3.1" height="3.1" fill="#bccb94" />
<rect x="247.95" y="355.95" width="3.1" height="3.1" fill="#bccb94" />
<rect x="245.95" y="360.25" width="3.1" height="3.1" fill="#bccb94" />
<rect x="250.45" y="360.25" width="3.1" height="3.1" fill="#bccb94" />
<path d="M273.2,315.8 L274.8,318.68 L271.6,318.68 Z" fill="#2e9cc4"/>
<path d="M277.1,315.8 L278.7,318.68 L275.5,318.68 Z" fill="#2e9cc4"/>
<path d="M270.6,322.6 L272.2,325.48 L269,325.48 Z" fill="#2e9cc4"/>
<path d="M273.2,343.2 L274.8,346.08 L271.6,346.08 Z" fill="#2e9cc4"/>
<path d="M277.1,341.6 L278.7,344.48 L275.5,344.48 Z" fill="#2e9cc4"/>
<line x1="265.8" y1="328.2" x2="281.8" y2="328.2" stroke="#333" stroke-width="1.1" />
<line x1="273.8" y1="323.7" x2="273.8" y2="333" stroke="#333" stroke-width="1.1" />
<line x1="269.8" y1="323.7" x2="277.8" y2="323.7" stroke="#333" stroke-width="1.1" />
<line x1="269.8" y1="333" x2="277.8" y2="333" stroke="#333" stroke-width="1.1" />
<circle cx="297.6" cy="291.2" r="1.7" fill="#2e9cc4"/>
<circle cx="297.6" cy="299.5" r="1.7" fill="#2e9cc4"/>
<circle cx="294.4" cy="333.3" r="1.7" fill="#2e9cc4"/>
<circle cx="297.6" cy="333.3" r="1.7" fill="#2e9cc4"/>
<circle cx="297.6" cy="347.2" r="1.7" fill="#2e9cc4"/>
<line x1="289.7" y1="320.5" x2="305.7" y2="320.5" stroke="#333" stroke-width="1.1" />
<line x1="297.7" y1="309.5" x2="297.7" y2="331.8" stroke="#333" stroke-width="1.1" />
<line x1="293.7" y1="309.5" x2="301.7" y2="309.5" stroke="#333" stroke-width="1.1" />
<line x1="293.7" y1="331.8" x2="301.7" y2="331.8" stroke="#333" stroke-width="1.1" />
<path d="M322,313 L323.9,314.9 L322,316.8 L320.1,314.9 Z" fill="#2e9cc4"/>
<path d="M318.6,319.2 L320.5,321.1 L318.6,323 L316.7,321.1 Z" fill="#2e9cc4"/>
<path d="M322,332.8 L323.9,334.7 L322,336.6 L320.1,334.7 Z" fill="#2e9cc4"/>
<path d="M325.2,331.4 L327.1,333.3 L325.2,335.2 L323.3,333.3 Z" fill="#2e9cc4"/>
<line x1="314" y1="325.2" x2="330" y2="325.2" stroke="#333" stroke-width="1.1" />
<line x1="322" y1="321.2" x2="322" y2="329.3" stroke="#333" stroke-width="1.1" />
<line x1="318" y1="321.2" x2="326" y2="321.2" stroke="#333" stroke-width="1.1" />
<line x1="318" y1="329.3" x2="326" y2="329.3" stroke="#333" stroke-width="1.1" />
<text x="24.88" y="383.7" font-size="7.9" textLength="27.34" lengthAdjust="spacingAndGlyphs" fill="#231f20" stroke="#231f20" stroke-width="0.2" style="" >shRNA:</text>
<rect x="60.9" y="380.2" width="2.4" height="1.5" fill="#666" />
<text x="81.59" y="383.6" font-size="7.9" textLength="10.07" lengthAdjust="spacingAndGlyphs" fill="#231f20" stroke="#231f20" stroke-width="0.2" style="" >Ctl</text>
<text x="106.56" y="383.6" font-size="7.9" textLength="8.64" lengthAdjust="spacingAndGlyphs" fill="#231f20" stroke="#231f20" stroke-width="0.2" style="" >#a</text>
<text x="130.06" y="383.6" font-size="7.9" textLength="9.82" lengthAdjust="spacingAndGlyphs" fill="#231f20" stroke="#231f20" stroke-width="0.2" style="" >#b</text>
<text x="154.26" y="383.6" font-size="7.9" textLength="9.4" lengthAdjust="spacingAndGlyphs" fill="#231f20" stroke="#231f20" stroke-width="0.2" style="" >#c</text>
<line x1="100.4" y1="388.4" x2="165.5" y2="388.4" stroke="#231f20" stroke-width="1" />
<text x="119.36" y="399.7" font-size="8.4" textLength="25.42" lengthAdjust="spacingAndGlyphs" fill="#231f20" stroke="#231f20" stroke-width="0.2" style="" >FOXP1</text>
<text x="187.88" y="383.7" font-size="7.9" textLength="27.85" lengthAdjust="spacingAndGlyphs" fill="#231f20" stroke="#231f20" stroke-width="0.2" style="" >shRNA:</text>
<rect x="224.2" y="380.2" width="2.4" height="1.5" fill="#666" />
<text x="244.29" y="383.6" font-size="7.9" textLength="9.95" lengthAdjust="spacingAndGlyphs" fill="#231f20" stroke="#231f20" stroke-width="0.2" style="" >Ctl</text>
<text x="269.26" y="383.6" font-size="7.9" textLength="8.44" lengthAdjust="spacingAndGlyphs" fill="#231f20" stroke="#231f20" stroke-width="0.2" style="" >#a</text>
<text x="292.36" y="383.6" font-size="7.9" textLength="9.4" lengthAdjust="spacingAndGlyphs" fill="#231f20" stroke="#231f20" stroke-width="0.2" style="" >#b</text>
<text x="316.96" y="383.6" font-size="7.9" textLength="9.4" lengthAdjust="spacingAndGlyphs" fill="#231f20" stroke="#231f20" stroke-width="0.2" style="" >#c</text>
<line x1="265.5" y1="388.4" x2="330.2" y2="388.4" stroke="#231f20" stroke-width="1" />
<text x="284.06" y="399.7" font-size="8.4" textLength="25.42" lengthAdjust="spacingAndGlyphs" fill="#231f20" stroke="#231f20" stroke-width="0.2" style="" >FOXP1</text>
<text x="353.61" y="249.6" font-size="12.2" textLength="8.49" lengthAdjust="spacingAndGlyphs" fill="#231f20" stroke="#231f20" stroke-width="0.4" style="font-weight:bold;" >D</text>
<text x="410.92" y="261.6" font-size="9.2" textLength="34.32" lengthAdjust="spacingAndGlyphs" fill="#231f20" stroke="#231f20" stroke-width="0.2" style="" >Patients</text>
<line x1="398" y1="272.6" x2="398" y2="370.3" stroke="#231f20" stroke-width="1.3" />
<line x1="397.45" y1="369.8" x2="456.8" y2="369.8" stroke="#231f20" stroke-width="1.3" />
<line x1="395" y1="369.8" x2="398" y2="369.8" stroke="#231f20" stroke-width="1" />
<text x="386.72" y="372.75" font-size="8.5" textLength="4.49" lengthAdjust="spacingAndGlyphs" fill="#231f20" stroke="#231f20" stroke-width="0.2" style="" >0</text>
<line x1="395" y1="345.9" x2="398" y2="345.9" stroke="#231f20" stroke-width="1" />
<text x="386.74" y="348.85" font-size="8.5" textLength="4.49" lengthAdjust="spacingAndGlyphs" fill="#231f20" stroke="#231f20" stroke-width="0.2" style="" >5</text>
<line x1="395" y1="322" x2="398" y2="322" stroke="#231f20" stroke-width="1" />
<text x="382" y="324.95" font-size="8.5" textLength="9.23" lengthAdjust="spacingAndGlyphs" fill="#231f20" stroke="#231f20" stroke-width="0.2" style="" >10</text>
<line x1="395" y1="298.1" x2="398" y2="298.1" stroke="#231f20" stroke-width="1" />
<text x="382.02" y="301.05" font-size="8.5" textLength="9.23" lengthAdjust="spacingAndGlyphs" fill="#231f20" stroke="#231f20" stroke-width="0.2" style="" >15</text>
<line x1="395" y1="274.2" x2="398" y2="274.2" stroke="#231f20" stroke-width="1" />
<text x="381.99" y="277.15" font-size="8.5" textLength="9.24" lengthAdjust="spacingAndGlyphs" fill="#231f20" stroke="#231f20" stroke-width="0.2" style="" >20</text>
<g transform="translate(376.7,353.8) rotate(-90)">
<text x="-0.46" y="0" font-size="9" textLength="60.43" lengthAdjust="spacingAndGlyphs" fill="#231f20" stroke="#231f20" stroke-width="0.2" style="" >DHE (MFI, a.u. × 10</text>
</g>
<g transform="translate(372.6,294.2) rotate(-90)">
<text x="-0.01" y="0" font-size="5.8" textLength="2.15" lengthAdjust="spacingAndGlyphs" fill="#231f20" stroke="#231f20" stroke-width="0.15" style="" >4</text>
</g>
<g transform="translate(376.7,291.5) rotate(-90)">
<text x="0.04" y="0" font-size="8.4" textLength="2.51" lengthAdjust="spacingAndGlyphs" fill="#231f20" stroke="#231f20" stroke-width="0.2" style="" >)</text>
</g>
<rect x="401.5" y="350.2" width="12.3" height="19.1" fill="#abc083" />
<rect x="421.3" y="328" width="12.4" height="41.3" fill="#33a8e2" />
<rect x="441.3" y="319.4" width="12.6" height="49.9" fill="#33a8e2" />
<line x1="407.4" y1="369.8" x2="407.4" y2="372.5" stroke="#231f20" stroke-width="1" />
<line x1="427.5" y1="369.8" x2="427.5" y2="372.5" stroke="#231f20" stroke-width="1" />
<line x1="447.5" y1="369.8" x2="447.5" y2="372.5" stroke="#231f20" stroke-width="1" />
<line x1="407.3" y1="347.1" x2="407.3" y2="353.1" stroke="#333" stroke-width="1.1" />
<line x1="404.3" y1="347.1" x2="410.3" y2="347.1" stroke="#333" stroke-width="1.1" />
<line x1="404.3" y1="353.1" x2="410.3" y2="353.1" stroke="#333" stroke-width="1.1" />
<line x1="427.5" y1="320.4" x2="427.5" y2="336.1" stroke="#333" stroke-width="1.1" />
<line x1="424.5" y1="320.4" x2="430.5" y2="320.4" stroke="#333" stroke-width="1.1" />
<line x1="424.5" y1="336.1" x2="430.5" y2="336.1" stroke="#333" stroke-width="1.1" />
<line x1="447.3" y1="308.3" x2="447.3" y2="330.3" stroke="#333" stroke-width="1.1" />
<line x1="444.3" y1="308.3" x2="450.3" y2="308.3" stroke="#333" stroke-width="1.1" />
<line x1="444.3" y1="330.3" x2="450.3" y2="330.3" stroke="#333" stroke-width="1.1" />
<circle cx="408.4" cy="342.3" r="1.6" fill="#b5123b"/>
<circle cx="406.1" cy="357.1" r="1.6" fill="#2a2a66"/>
<circle cx="407.5" cy="349.5" r="1.6" fill="#1b6f63"/>
<circle cx="427.5" cy="311.1" r="1.6" fill="#f2a640"/>
<circle cx="427.5" cy="326.6" r="1.6" fill="#1b6f63"/>
<circle cx="427.5" cy="333.3" r="1.6" fill="#b5123b"/>
<circle cx="427.5" cy="346.7" r="1.6" fill="#2a2a66"/>
<circle cx="447.3" cy="297.4" r="1.6" fill="#b5123b"/>
<circle cx="447.3" cy="305.5" r="1.6" fill="#f2a640"/>
<circle cx="445.6" cy="340" r="1.6" fill="#2a2a66"/>
<circle cx="449.7" cy="337.3" r="1.6" fill="#1b6f63"/>
<line x1="407.3" y1="285.5" x2="446.5" y2="285.5" stroke="#333" stroke-width="1.1" />
<circle cx="428.1" cy="280.7" r="1.45" fill="#222"/>
<text x="411.31" y="300.9" font-size="8.8" textLength="10.87" lengthAdjust="spacingAndGlyphs" fill="#231f20" stroke="#231f20" stroke-width="0.2" style="" >ns</text>
<line x1="407.3" y1="302.9" x2="426.5" y2="302.9" stroke="#555" stroke-width="1" />
<text x="370.68" y="383.7" font-size="7.9" textLength="27.13" lengthAdjust="spacingAndGlyphs" fill="#231f20" stroke="#231f20" stroke-width="0.2" style="" >shRNA:</text>
<text x="402.87" y="383.7" font-size="7.9" textLength="10.62" lengthAdjust="spacingAndGlyphs" fill="#231f20" stroke="#231f20" stroke-width="0.2" style="" >Ctl</text>
<text x="423.36" y="383.7" font-size="7.9" textLength="9.19" lengthAdjust="spacingAndGlyphs" fill="#231f20" stroke="#231f20" stroke-width="0.2" style="" >#b</text>
<text x="443.06" y="383.7" font-size="7.9" textLength="9.5" lengthAdjust="spacingAndGlyphs" fill="#231f20" stroke="#231f20" stroke-width="0.2" style="" >#c</text>
<line x1="420.7" y1="388.3" x2="454.9" y2="388.3" stroke="#231f20" stroke-width="1" />
<text x="424.46" y="399.7" font-size="8.4" textLength="25.63" lengthAdjust="spacingAndGlyphs" fill="#231f20" stroke="#231f20" stroke-width="0.2" style="" >FOXP1</text>
<circle cx="471.2" cy="298.1" r="1.2" fill="#f2a640"/>
<text x="474.44" y="300.1" font-size="8" textLength="36.05" lengthAdjust="spacingAndGlyphs" fill="#231f20" stroke="#231f20" stroke-width="0.2" style="" >Patient #1</text>
<circle cx="471.2" cy="307.5" r="1.2" fill="#b5123b"/>
<text x="474.44" y="309.5" font-size="8" textLength="36.07" lengthAdjust="spacingAndGlyphs" fill="#231f20" stroke="#231f20" stroke-width="0.2" style="" >Patient #2</text>
<circle cx="471.2" cy="316.9" r="1.2" fill="#1b6f63"/>
<text x="474.44" y="318.9" font-size="8" textLength="36.01" lengthAdjust="spacingAndGlyphs" fill="#231f20" stroke="#231f20" stroke-width="0.2" style="" >Patient #3</text>
<circle cx="471.2" cy="326.3" r="1.2" fill="#2a2a66"/>
<text x="474.44" y="328.3" font-size="8" textLength="35.89" lengthAdjust="spacingAndGlyphs" fill="#231f20" stroke="#231f20" stroke-width="0.2" style="" >Patient #4</text>
<rect x="0.5" y="0.5" width="519" height="408" fill="none" stroke="#6a6a6a" stroke-width="1"/>
<line x1="519.5" y1="0" x2="519.5" y2="409" stroke="#555" stroke-width="1"/>
<line x1="0" y1="408.5" x2="520" y2="408.5" stroke="#555" stroke-width="1"/>
<line x1="0" y1="0.5" x2="520" y2="0.5" stroke="#5a5a5a" stroke-width="1"/>
</svg></div>
</body></html>
